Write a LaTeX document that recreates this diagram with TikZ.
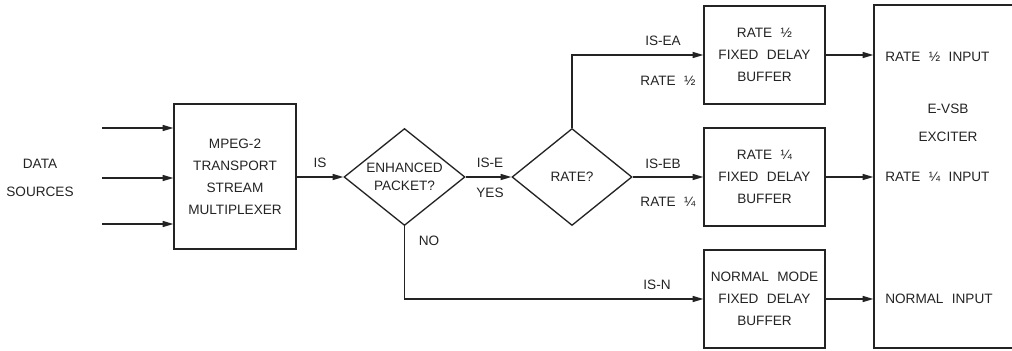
\documentclass[tikz,border=0pt]{standalone}
\usepackage{fontspec}
\setmainfont{Liberation Sans}
\usetikzlibrary{shapes.geometric,arrows.meta}
\definecolor{ink}{RGB}{35,35,35}
\newcommand{\gp}{\hspace{0.62em}}
\begin{document}
\begin{tikzpicture}[x=0.75pt,y=-0.75pt,
  every node/.style={text=ink},
  lbl/.style={font=\fontsize{10.2}{12}\selectfont, inner sep=0pt},
  blk/.style={draw=ink, line width=1pt, rectangle, inner sep=0pt, align=center,
     font=\fontsize{10.2}{16.5}\selectfont},
  dec/.style={draw=ink, line width=1pt, diamond, inner sep=0pt, aspect=1.25, align=center,
     font=\fontsize{10.2}{13.5}\selectfont},
  conn/.style={draw=ink, line width=1pt, -{Triangle[length=8pt,width=4.5pt]}},
  plain/.style={draw=ink, line width=1pt}]
\useasboundingbox (0,0) rectangle (1012,350);
\clip (0,0) rectangle (1012,350);

\node[blk, minimum width=122*0.75pt, minimum height=145*0.75pt] (mux) at (235,176.5)
  {MPEG-2\\TRANSPORT\\STREAM\\MULTIPLEXER};
\node[dec, minimum width=121*0.75pt, minimum height=97*0.75pt] (d1) at (404.5,177)
  {ENHANCED\\PACKET?};
\node[dec, minimum width=120*0.75pt, minimum height=97*0.75pt] (d2) at (572,177) {RATE?};
\node[blk, minimum width=121*0.75pt, minimum height=98*0.75pt] (bA) at (764.5,55)
  {RATE\gp ½\\FIXED\gp DELAY\\BUFFER};
\node[blk, minimum width=121*0.75pt, minimum height=98*0.75pt] (bB) at (764.5,177)
  {RATE\gp ¼\\FIXED\gp DELAY\\BUFFER};
\node[blk, minimum width=121*0.75pt, minimum height=98*0.75pt] (bN) at (764.5,299)
  {NORMAL\gp MODE\\FIXED\gp DELAY\\BUFFER};
\node[blk, minimum width=400*0.75pt, minimum height=343*0.75pt] (exc) at (1074,176.5) {};

\node[lbl, align=center, font=\fontsize{10.2}{21}\selectfont] (ds) at (40,177.5) {DATA\\SOURCES};
\node[lbl, align=center, font=\fontsize{10.2}{21}\selectfont] (ev) at (948,122.5) {E-VSB\\EXCITER};

\coordinate (i1) at (102,128);
\coordinate (i2) at (102,178);
\coordinate (i3) at (102,224);
\draw[conn] (i1) -- (i1 -| mux.west);
\draw[conn] (i2) -- (i2 -| mux.west);
\draw[conn] (i3) -- (i3 -| mux.west);

\draw[conn] (mux.east |- d1.west) -- (d1.west);
\draw[conn] (d1.east) -- (d2.west);
\draw[conn] (d2.north) |- (bA.west);
\draw[conn] (d2.east) -- (bB.west);
\draw[conn] (d1.south) |- (bN.west);
\draw[conn] (bA.east) -- (bA.east -| exc.west);
\draw[conn] (bB.east) -- (bB.east -| exc.west);
\draw[conn] (bN.east) -- (bN.east -| exc.west);

\node[lbl] (lIS) at (320,163) {IS};
\node[lbl] (lISE) at (490,163) {IS-E};
\node[lbl] (lYES) at (490,193) {YES};
\node[lbl] (lNO) at (429,241) {NO};
\node[lbl] (lEA) at (663,41) {IS-EA};
\node[lbl] (lRh) at (668,81) {RATE\gp ½};
\node[lbl] (lEB) at (663,164) {IS-EB};
\node[lbl] (lRq) at (668,202) {RATE\gp ¼};
\node[lbl] (lN) at (657,285) {IS-N};

\node[lbl, anchor=west] (inA) at (885,57) {RATE\gp ½\gp INPUT};
\node[lbl, anchor=west] (inB) at (885,177) {RATE\gp ¼\gp INPUT};
\node[lbl, anchor=west] (inN) at (885,299) {NORMAL\gp INPUT};
\end{tikzpicture}
\end{document}
